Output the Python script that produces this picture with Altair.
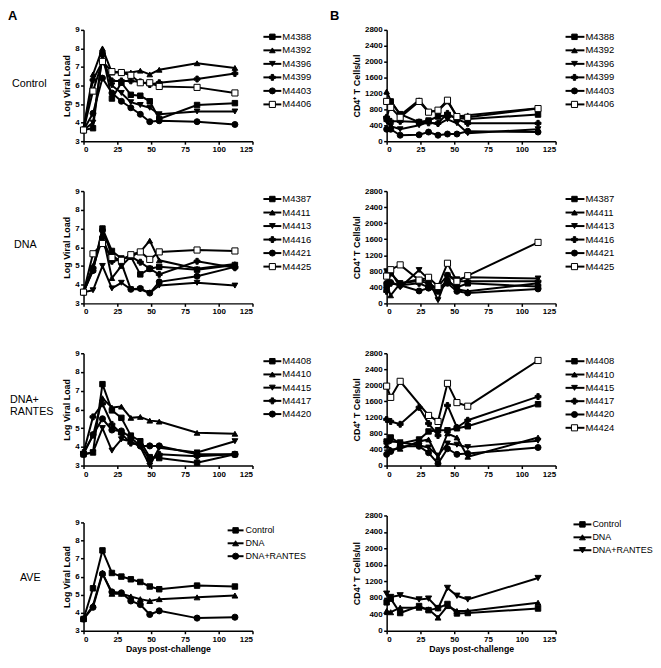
import altair as alt
import pandas as pd

FONT = "Liberation Sans"

VL_DAYS = [0, 7, 14, 21, 28, 35, 42, 49, 56, 84, 112]
CD4_DAYS = [0, 3, 10, 24, 31, 38, 45, 52, 60, 112]
X_TICKS = [0, 25, 50, 75, 100, 125]
VL_TICKS = [3, 4, 5, 6, 7, 8, 9]
CD4_TICKS = [0, 400, 800, 1200, 1600, 2000, 2400, 2800]

# ---- Control ----
CTRL_NAMES = ["M4388", "M4392", "M4396", "M4399", "M4403", "M4406"]
CTRL_VL_M4388 = [3.6, 3.7, 7.7, 5.3, 6.15, 5.5, 5.45, 5.15, 4.2, 4.95, 5.05]
CTRL_VL_M4392 = [3.7, 6.6, 8.0, 6.7, 6.7, 6.7, 6.8, 6.6, 6.85, 7.2, 6.95]
CTRL_VL_M4396 = [3.6, 4.0, 7.6, 6.0, 5.6, 5.1, 4.95, 4.8, 4.45, 4.6, 4.6]
CTRL_VL_M4399 = [3.6, 6.3, 7.3, 6.25, 6.25, 6.25, 6.2, 6.05, 6.15, 6.35, 6.65]
CTRL_VL_M4403 = [3.6, 4.5, 6.4, 5.6, 5.15, 4.8, 4.45, 4.05, 4.1, 4.05, 3.9]
CTRL_VL_M4406 = [3.6, 5.7, 7.3, 6.75, 6.7, 6.55, 6.15, 6.15, 5.95, 5.9, 5.6]

CTRL_CD4_M4388 = [560, 1000, 680, 480, 520, 620, 650, 580, 560, 670]
CTRL_CD4_M4392 = [1250, 1020, 650, 1030, 750, 760, 1000, 620, 650, 830]
CTRL_CD4_M4396 = [500, 380, 300, 400, 480, 420, 550, 450, 200, 300]
CTRL_CD4_M4399 = [600, 500, 500, 480, 460, 450, 700, 550, 450, 450]
CTRL_CD4_M4403 = [300, 300, 150, 160, 230, 150, 180, 180, 250, 230]
CTRL_CD4_M4406 = [1000, 850, 600, 1000, 730, 780, 1030, 620, 600, 820]

# ---- DNA ----
DNA_NAMES = ["M4387", "M4411", "M4413", "M4416", "M4421", "M4425"]
DNA_VL_M4387 = [3.6, 4.8, 7.0, 5.8, 5.4, 5.5, 4.55, 4.85, 4.95, 4.8, 5.05]
DNA_VL_M4411 = [3.6, 5.0, 6.7, 4.35, 5.0, 5.5, 5.75, 6.35, 5.3, 4.85, 5.1]
DNA_VL_M4413 = [3.6, 3.7, 5.0, 3.8, 4.1, 3.75, 3.75, 3.55, 3.95, 4.1, 3.95]
DNA_VL_M4416 = [3.6, 4.9, 6.5, 5.25, 5.35, 5.5, 5.2, 4.85, 4.55, 5.25, 4.9]
DNA_VL_M4421 = [3.6, 4.75, 6.9, 5.6, 5.15, 3.75, 3.8, 3.55, 4.15, 4.45, 4.95]
DNA_VL_M4425 = [3.6, 5.65, 6.2, 5.45, 5.3, 5.6, 5.75, 5.35, 5.75, 5.85, 5.8]

DNA_CD4_M4387 = [400, 750, 500, 560, 500, 350, 550, 400, 500, 420]
DNA_CD4_M4411 = [450, 200, 500, 600, 550, 300, 600, 350, 300, 500]
DNA_CD4_M4413 = [800, 800, 400, 830, 600, 80, 700, 600, 650, 620]
DNA_CD4_M4416 = [300, 500, 450, 500, 400, 420, 700, 550, 550, 550]
DNA_CD4_M4421 = [500, 520, 450, 310, 380, 300, 500, 300, 260, 360]
DNA_CD4_M4425 = [680, 840, 960, 580, 650, 420, 1000, 550, 690, 1520]

# ---- DNA+RANTES ----
DR_VL_NAMES = ["M4408", "M4410", "M4415", "M4417", "M4420"]
DR_VL_M4408 = [3.6, 3.7, 7.35, 5.95, 5.55, 4.6, 4.3, 3.45, 3.4, 3.15, 3.6]
DR_VL_M4410 = [3.7, 4.6, 6.6, 6.1, 6.15, 5.55, 5.6, 5.4, 5.35, 4.75, 4.7]
DR_VL_M4415 = [3.6, 3.7, 5.0, 3.8, 4.4, 4.3, 4.0, 3.0, 3.95, 3.7, 4.3]
DR_VL_M4417 = [3.7, 5.6, 6.3, 5.2, 4.7, 4.2, 4.1, 3.3, 3.6, 3.5, 3.6]
DR_VL_M4420 = [3.6, 4.65, 5.5, 4.9, 4.85, 4.5, 4.05, 4.05, 4.05, 3.6, 3.6]

DR_CD4_NAMES = ["M4408", "M4410", "M4415", "M4417", "M4420", "M4424"]
DR_CD4_M4408 = [600, 700, 550, 650, 850, 880, 880, 930, 980, 1530]
DR_CD4_M4410 = [500, 400, 420, 600, 650, 200, 800, 700, 220, 700]
DR_CD4_M4415 = [550, 600, 580, 500, 450, 250, 550, 520, 460, 620]
DR_CD4_M4417 = [1150, 1100, 1030, 1450, 1050, 750, 1500, 950, 1130, 1720]
DR_CD4_M4420 = [280, 350, 480, 480, 320, 50, 420, 280, 300, 450]
DR_CD4_M4424 = [1980, 1700, 2100, None, 1250, 1100, 2050, 1570, 1480, 2620]

# ---- Averages ----
AVE_NAMES = ["Control", "DNA", "DNA+RANTES"]
AVE_VL_CONTROL = [3.65, 5.35, 7.45, 6.2, 6.0, 5.85, 5.7, 5.45, 5.3, 5.5, 5.45]
AVE_VL_DNA = [3.65, 4.4, 6.2, 5.05, 5.05, 4.9, 4.75, 4.65, 4.75, 4.85, 4.95]
AVE_VL_DR = [3.65, 4.3, 6.15, 5.15, 5.1, 4.65, 4.45, 3.9, 4.1, 3.7, 3.75]

AVE_CD4_CONTROL = [690, 780, 430, 600, 500, 550, 650, 420, 430, 540]
AVE_CD4_DNA = [480, 450, 560, 560, 520, 320, 600, 480, 480, 680]
AVE_CD4_DR = [900, 820, 860, 760, 780, 540, 1040, 850, 760, 1280]

# marker styles: (shape, fill, size)
STY = {
    "sq": ("square", "black", 30),
    "tu": ("triangle-up", "black", 38),
    "td": ("triangle-down", "black", 38),
    "cr": ("cross", "black", 26),
    "ci": ("circle", "black", 30),
    "osq": ("square", "white", 44),
}

PW = 170


def panel(names, styles, days, series, ydomain, yticks, ytitle, height,
          leg_rule, leg_mark, leg_text, leg_y0, leg_step,
          extras=(), xtitle=None, yrange=None, leg_font=9.5):
    recs = []
    for n in names:
        for d, v in zip(days, series[n]):
            if v is not None:
                recs.append({"series": n, "day": d, "value": v})
    df = pd.DataFrame(recs)
    shp = alt.Shape("series:N", scale=alt.Scale(domain=names, range=[STY[s][0] for s in styles]), legend=None)
    fil = alt.Fill("series:N", scale=alt.Scale(domain=names, range=[STY[s][1] for s in styles]), legend=None)
    siz = alt.Size("series:O", scale=alt.Scale(domain=names, range=[STY[s][2] for s in styles]), legend=None)
    xa = alt.Axis(values=X_TICKS, title=xtitle) if xtitle else alt.Axis(values=X_TICKS, title=None)
    x = alt.X("day:Q", scale=alt.Scale(domain=[0, 125], nice=False), axis=xa)
    if yrange:
        ysc = alt.Scale(domain=ydomain, nice=False, zero=False, range=yrange)
    else:
        ysc = alt.Scale(domain=ydomain, nice=False, zero=False)
    y = alt.Y("value:Q", scale=ysc, axis=alt.Axis(values=yticks, title=ytitle, format="d"))
    base = alt.Chart(df)
    lines = base.mark_line(color="black", strokeWidth=2).encode(x=x, y=y, detail="series:N")
    pts = base.mark_point(stroke="black", strokeWidth=1, opacity=1, fillOpacity=1).encode(
        x=x, y=y, shape=shp, fill=fil, size=siz)

    ldf = pd.DataFrame({"series": names})
    ly = alt.Y("series:N", scale=alt.Scale(type="point", domain=names, padding=0,
                                          range=[leg_y0, leg_y0 + leg_step * (len(names) - 1)]),
               axis=None)
    lrule = alt.Chart(ldf).mark_rule(color="black", strokeWidth=2).encode(
        x=alt.value(leg_rule[0]), x2=alt.value(leg_rule[1]), y=ly)
    lpt = alt.Chart(ldf).mark_point(stroke="black", strokeWidth=1, opacity=1, fillOpacity=1).encode(
        x=alt.value(leg_mark), y=ly, shape=shp, fill=fil, size=siz)
    ltxt = alt.Chart(ldf).mark_text(align="left", baseline="middle", fontSize=leg_font, font=FONT,
                                    color="black").encode(x=alt.value(leg_text), y=ly, text="series:N")
    layers = [alt.layer(lines, pts), alt.layer(lrule, lpt, ltxt)] + list(extras)
    return alt.layer(*layers).resolve_scale(y="independent").properties(width=PW, height=height)


def label(text, x, y, size=10.8, bold=False, baseline="middle"):
    d = pd.DataFrame({"t": [text]})
    return alt.Chart(d).mark_text(align="left", baseline=baseline, fontSize=size, font=FONT,
                                  fontWeight="bold" if bold else "normal", color="black").encode(
        x=alt.value(x), y=alt.value(y), text="t:N")


def multi_label(lines, x, y, size=10.8, line_height=12):
    d = pd.DataFrame({"t": [lines]})
    return alt.Chart(d).mark_text(align="left", baseline="top", fontSize=size, font=FONT,
                                  color="black", lineHeight=line_height).encode(
        x=alt.value(x), y=alt.value(y), text="t")


STY6 = ["sq", "tu", "td", "cr", "ci", "osq"]
CD4_TITLE = "CD4\u207a T Cells/ul"
VL_TITLE = "Log Viral Load"

A1 = panel(CTRL_NAMES, STY6, VL_DAYS,
           dict(zip(CTRL_NAMES, [CTRL_VL_M4388, CTRL_VL_M4392, CTRL_VL_M4396, CTRL_VL_M4399,
                                 CTRL_VL_M4403, CTRL_VL_M4406])),
           [3, 9], VL_TICKS, VL_TITLE, 112, (181, 199), 190, 200, 7, 13.6,
           extras=[label("Control", -72, 54), label("A", -76, -20, size=13, bold=True, baseline="top")])
B1 = panel(CTRL_NAMES, STY6, CD4_DAYS,
           dict(zip(CTRL_NAMES, [CTRL_CD4_M4388, CTRL_CD4_M4392, CTRL_CD4_M4396, CTRL_CD4_M4399,
                                 CTRL_CD4_M4403, CTRL_CD4_M4406])),
           [0, 2800], CD4_TICKS, CD4_TITLE, 112, (180, 199), 189, 200, 7, 13.6,
           extras=[label("B", -57, -20, size=13, bold=True, baseline="top")])

A2 = panel(DNA_NAMES, STY6, VL_DAYS,
           dict(zip(DNA_NAMES, [DNA_VL_M4387, DNA_VL_M4411, DNA_VL_M4413, DNA_VL_M4416,
                                DNA_VL_M4421, DNA_VL_M4425])),
           [3, 9], VL_TICKS, VL_TITLE, 113, (181, 199), 190, 200, 8, 13.6,
           extras=[label("DNA", -70, 54)])
B2 = panel(DNA_NAMES, STY6, CD4_DAYS,
           dict(zip(DNA_NAMES, [DNA_CD4_M4387, DNA_CD4_M4411, DNA_CD4_M4413, DNA_CD4_M4416,
                                DNA_CD4_M4421, DNA_CD4_M4425])),
           [0, 2800], CD4_TICKS, CD4_TITLE, 113, (180, 199), 189, 200, 8, 13.6)

A3 = panel(DR_VL_NAMES, STY6[:5], VL_DAYS,
           dict(zip(DR_VL_NAMES, [DR_VL_M4408, DR_VL_M4410, DR_VL_M4415, DR_VL_M4417, DR_VL_M4420])),
           [3, 9], VL_TICKS, VL_TITLE, 113, (181, 199), 190, 200, 8, 13.3,
           extras=[multi_label(["DNA+", "RANTES"], -74, 41)])
B3 = panel(DR_CD4_NAMES, STY6, CD4_DAYS,
           dict(zip(DR_CD4_NAMES, [DR_CD4_M4408, DR_CD4_M4410, DR_CD4_M4415, DR_CD4_M4417,
                                   DR_CD4_M4420, DR_CD4_M4424])),
           [0, 2800], CD4_TICKS, CD4_TITLE, 113, (180, 199), 189, 200, 8, 13.4)

# row 4: A panel axis starts 7px lower than the B panel's
A4 = panel(AVE_NAMES, ["sq", "tu", "ci"], VL_DAYS,
           dict(zip(AVE_NAMES, [AVE_VL_CONTROL, AVE_VL_DNA, AVE_VL_DR])),
           [3, 9], VL_TICKS, VL_TITLE, 116, (145, 161), 153, 163, 15, 13,
           extras=[label("AVE", -64, 63)], xtitle="Days post-challenge", yrange=[116, 7], leg_font=9)
B4 = panel(AVE_NAMES, ["sq", "tu", "td"], CD4_DAYS,
           dict(zip(AVE_NAMES, [AVE_CD4_CONTROL, AVE_CD4_DNA, AVE_CD4_DR])),
           [0, 2800], CD4_TICKS, CD4_TITLE, 116, (188, 206), 197, 207, 9, 13,
           xtitle="Days post-challenge", leg_font=9)

chart = alt.concat(A1, B1, A2, B2, A3, B3, A4, B4, columns=2,
                   spacing={"row": 50.2, "column": 135}, bounds="flush").resolve_scale(
    shape="independent", fill="independent", size="independent"
).properties(
    padding=0
).configure_view(strokeWidth=0).configure_axis(
    labelFont=FONT, labelFontWeight="bold", labelFontSize=8, labelColor="black",
    labelPadding=1.5, titleFont=FONT, titleFontWeight="bold", titleFontSize=9,
    titleColor="black", titlePadding=3, domainColor="black", domainWidth=1.5,
    tickColor="black", tickWidth=1.5, tickSize=3, grid=False
).configure_axisX(titlePadding=1, titleFontSize=8.8).configure_text(font=FONT)

chart.save("out.html", embed_options={"renderer": "svg", "actions": False})
